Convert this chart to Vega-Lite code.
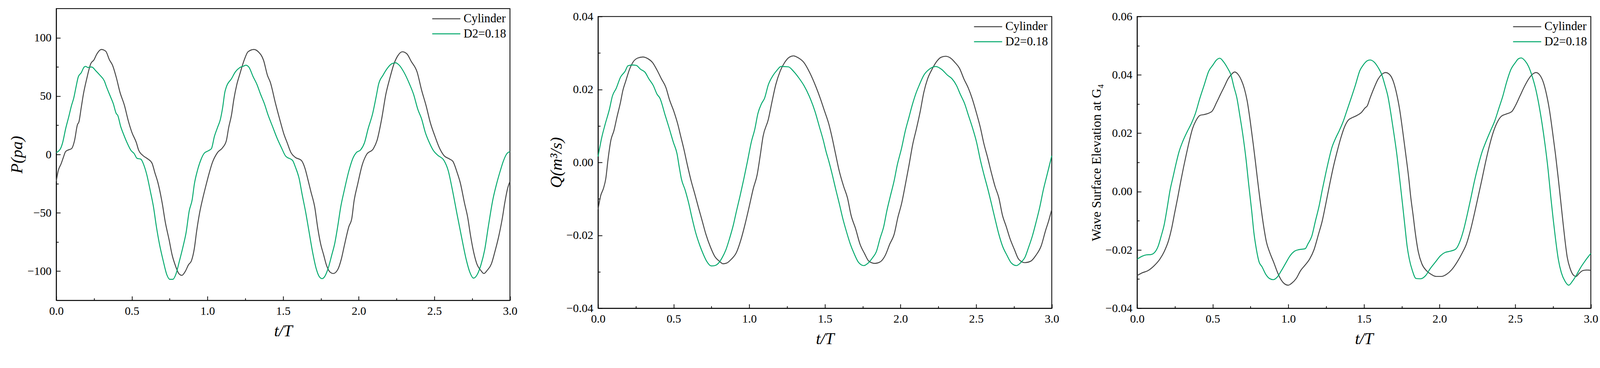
{
  "$schema": "https://vega.github.io/schema/vega-lite/v6.json",
  "background": "white",
  "padding": {"left": 20, "top": 20, "right": 0, "bottom": 0},
  "spacing": 76,
  "config": {
    "font": "Liberation Serif",
    "view": {"stroke": "black", "strokeWidth": 2.1},
    "axis": {
      "grid": false,
      "domainColor": "black",
      "domainWidth": 2.1,
      "tickColor": "black",
      "tickWidth": 1.9,
      "labelColor": "black",
      "labelFont": "Liberation Serif",
      "labelFontSize": 29.8,
      "labelOverlap": false,
      "labelFlush": false,
      "titleColor": "black",
      "titleFont": "Liberation Serif",
      "titleFontStyle": "italic",
      "titleFontWeight": "normal",
      "titleFontSize": 42.3
    },
    "legend": {
      "orient": "top-right",
      "offset": 10,
      "padding": 0,
      "symbolType": "stroke",
      "symbolSize": 5184,
      "symbolStrokeWidth": 2.4,
      "clipHeight": 32,
      "rowPadding": 6.5,
      "labelFont": "Liberation Serif",
      "labelFontSize": 30.8,
      "labelColor": "black",
      "labelOffset": 6.7
    }
  },
  "resolve": {"scale": {"color": "independent"}, "legend": {"color": "independent"}},
  "datasets": {
    "p1": [
      {"t":0,"v":-23,"s":"Cylinder"},{"t":0.013,"v":-14,"s":"Cylinder"},{"t":0.032,"v":-8,"s":"Cylinder"},{"t":0.047,"v":-2.5,"s":"Cylinder"},{"t":0.062,"v":2.5,"s":"Cylinder"},{"t":0.082,"v":4,"s":"Cylinder"},{"t":0.101,"v":5,"s":"Cylinder"},{"t":0.121,"v":12,"s":"Cylinder"},{"t":0.14,"v":25.5,"s":"Cylinder"},{"t":0.15,"v":28,"s":"Cylinder"},{"t":0.165,"v":40,"s":"Cylinder"},{"t":0.18,"v":52,"s":"Cylinder"},{"t":0.2,"v":64,"s":"Cylinder"},{"t":0.229,"v":78,"s":"Cylinder"},{"t":0.249,"v":81,"s":"Cylinder"},{"t":0.268,"v":86,"s":"Cylinder"},{"t":0.298,"v":90,"s":"Cylinder"},{"t":0.327,"v":88.5,"s":"Cylinder"},{"t":0.352,"v":81,"s":"Cylinder"},{"t":0.372,"v":76.5,"s":"Cylinder"},{"t":0.397,"v":66,"s":"Cylinder"},{"t":0.421,"v":53.5,"s":"Cylinder"},{"t":0.451,"v":42,"s":"Cylinder"},{"t":0.476,"v":29,"s":"Cylinder"},{"t":0.5,"v":19,"s":"Cylinder"},{"t":0.53,"v":10,"s":"Cylinder"},{"t":0.544,"v":4,"s":"Cylinder"},{"t":0.574,"v":-1,"s":"Cylinder"},{"t":0.603,"v":-3.6,"s":"Cylinder"},{"t":0.633,"v":-7.4,"s":"Cylinder"},{"t":0.652,"v":-15.6,"s":"Cylinder"},{"t":0.672,"v":-24,"s":"Cylinder"},{"t":0.701,"v":-42,"s":"Cylinder"},{"t":0.721,"v":-58,"s":"Cylinder"},{"t":0.746,"v":-73,"s":"Cylinder"},{"t":0.766,"v":-86,"s":"Cylinder"},{"t":0.79,"v":-96,"s":"Cylinder"},{"t":0.81,"v":-102,"s":"Cylinder"},{"t":0.83,"v":-103.6,"s":"Cylinder"},{"t":0.854,"v":-100,"s":"Cylinder"},{"t":0.874,"v":-94.6,"s":"Cylinder"},{"t":0.894,"v":-91,"s":"Cylinder"},{"t":0.913,"v":-80.6,"s":"Cylinder"},{"t":0.928,"v":-66,"s":"Cylinder"},{"t":0.948,"v":-50,"s":"Cylinder"},{"t":0.967,"v":-38.6,"s":"Cylinder"},{"t":0.987,"v":-28,"s":"Cylinder"},{"t":1.012,"v":-15.6,"s":"Cylinder"},{"t":1.031,"v":-7.4,"s":"Cylinder"},{"t":1.066,"v":1.6,"s":"Cylinder"},{"t":1.1,"v":5.8,"s":"Cylinder"},{"t":1.125,"v":12,"s":"Cylinder"},{"t":1.14,"v":23,"s":"Cylinder"},{"t":1.159,"v":34,"s":"Cylinder"},{"t":1.174,"v":47,"s":"Cylinder"},{"t":1.194,"v":60,"s":"Cylinder"},{"t":1.214,"v":69,"s":"Cylinder"},{"t":1.243,"v":81,"s":"Cylinder"},{"t":1.268,"v":88,"s":"Cylinder"},{"t":1.307,"v":90,"s":"Cylinder"},{"t":1.336,"v":88,"s":"Cylinder"},{"t":1.371,"v":80.6,"s":"Cylinder"},{"t":1.396,"v":68,"s":"Cylinder"},{"t":1.415,"v":62,"s":"Cylinder"},{"t":1.45,"v":43.6,"s":"Cylinder"},{"t":1.48,"v":29,"s":"Cylinder"},{"t":1.504,"v":18,"s":"Cylinder"},{"t":1.527,"v":10,"s":"Cylinder"},{"t":1.552,"v":1.6,"s":"Cylinder"},{"t":1.581,"v":-2.5,"s":"Cylinder"},{"t":1.62,"v":-5,"s":"Cylinder"},{"t":1.645,"v":-12,"s":"Cylinder"},{"t":1.665,"v":-22,"s":"Cylinder"},{"t":1.684,"v":-32,"s":"Cylinder"},{"t":1.709,"v":-45,"s":"Cylinder"},{"t":1.729,"v":-63,"s":"Cylinder"},{"t":1.748,"v":-76.5,"s":"Cylinder"},{"t":1.768,"v":-86,"s":"Cylinder"},{"t":1.787,"v":-95,"s":"Cylinder"},{"t":1.812,"v":-101,"s":"Cylinder"},{"t":1.832,"v":-102,"s":"Cylinder"},{"t":1.861,"v":-98.7,"s":"Cylinder"},{"t":1.885,"v":-89.6,"s":"Cylinder"},{"t":1.905,"v":-78,"s":"Cylinder"},{"t":1.935,"v":-61.7,"s":"Cylinder"},{"t":1.954,"v":-55,"s":"Cylinder"},{"t":1.969,"v":-40,"s":"Cylinder"},{"t":1.993,"v":-25.5,"s":"Cylinder"},{"t":2.023,"v":-9,"s":"Cylinder"},{"t":2.052,"v":0,"s":"Cylinder"},{"t":2.097,"v":5,"s":"Cylinder"},{"t":2.121,"v":12,"s":"Cylinder"},{"t":2.151,"v":30,"s":"Cylinder"},{"t":2.18,"v":52,"s":"Cylinder"},{"t":2.205,"v":65,"s":"Cylinder"},{"t":2.234,"v":78,"s":"Cylinder"},{"t":2.259,"v":84.7,"s":"Cylinder"},{"t":2.288,"v":88,"s":"Cylinder"},{"t":2.318,"v":86.3,"s":"Cylinder"},{"t":2.347,"v":79.8,"s":"Cylinder"},{"t":2.386,"v":70.7,"s":"Cylinder"},{"t":2.416,"v":55,"s":"Cylinder"},{"t":2.445,"v":42,"s":"Cylinder"},{"t":2.474,"v":27,"s":"Cylinder"},{"t":2.504,"v":15.6,"s":"Cylinder"},{"t":2.533,"v":5.8,"s":"Cylinder"},{"t":2.563,"v":-0.8,"s":"Cylinder"},{"t":2.602,"v":-4,"s":"Cylinder"},{"t":2.622,"v":-5.8,"s":"Cylinder"},{"t":2.651,"v":-15.6,"s":"Cylinder"},{"t":2.671,"v":-24,"s":"Cylinder"},{"t":2.7,"v":-42,"s":"Cylinder"},{"t":2.72,"v":-53.5,"s":"Cylinder"},{"t":2.74,"v":-70,"s":"Cylinder"},{"t":2.754,"v":-80,"s":"Cylinder"},{"t":2.779,"v":-93,"s":"Cylinder"},{"t":2.808,"v":-99.5,"s":"Cylinder"},{"t":2.828,"v":-102,"s":"Cylinder"},{"t":2.848,"v":-99.5,"s":"Cylinder"},{"t":2.877,"v":-93.8,"s":"Cylinder"},{"t":2.901,"v":-83,"s":"Cylinder"},{"t":2.926,"v":-70,"s":"Cylinder"},{"t":2.951,"v":-53.5,"s":"Cylinder"},{"t":2.965,"v":-42,"s":"Cylinder"},{"t":2.985,"v":-28.8,"s":"Cylinder"},{"t":3,"v":-23,"s":"Cylinder"},
      {"t":0,"v":1.6,"s":"D2=0.18"},{"t":0.028,"v":5,"s":"D2=0.18"},{"t":0.042,"v":10,"s":"D2=0.18"},{"t":0.062,"v":22,"s":"D2=0.18"},{"t":0.082,"v":32,"s":"D2=0.18"},{"t":0.101,"v":42,"s":"D2=0.18"},{"t":0.116,"v":48.5,"s":"D2=0.18"},{"t":0.131,"v":58,"s":"D2=0.18"},{"t":0.146,"v":66.6,"s":"D2=0.18"},{"t":0.165,"v":70,"s":"D2=0.18"},{"t":0.185,"v":75,"s":"D2=0.18"},{"t":0.195,"v":75.5,"s":"D2=0.18"},{"t":0.209,"v":74.5,"s":"D2=0.18"},{"t":0.234,"v":75,"s":"D2=0.18"},{"t":0.263,"v":71.5,"s":"D2=0.18"},{"t":0.288,"v":68,"s":"D2=0.18"},{"t":0.318,"v":63,"s":"D2=0.18"},{"t":0.332,"v":58,"s":"D2=0.18"},{"t":0.357,"v":50,"s":"D2=0.18"},{"t":0.377,"v":43.6,"s":"D2=0.18"},{"t":0.397,"v":35,"s":"D2=0.18"},{"t":0.406,"v":33.7,"s":"D2=0.18"},{"t":0.426,"v":24,"s":"D2=0.18"},{"t":0.446,"v":17,"s":"D2=0.18"},{"t":0.466,"v":10.7,"s":"D2=0.18"},{"t":0.495,"v":3.3,"s":"D2=0.18"},{"t":0.515,"v":0.8,"s":"D2=0.18"},{"t":0.534,"v":-3.3,"s":"D2=0.18"},{"t":0.559,"v":-4,"s":"D2=0.18"},{"t":0.579,"v":-9,"s":"D2=0.18"},{"t":0.598,"v":-17,"s":"D2=0.18"},{"t":0.623,"v":-32,"s":"D2=0.18"},{"t":0.643,"v":-45,"s":"D2=0.18"},{"t":0.662,"v":-61.7,"s":"D2=0.18"},{"t":0.682,"v":-76.5,"s":"D2=0.18"},{"t":0.707,"v":-91,"s":"D2=0.18"},{"t":0.731,"v":-103,"s":"D2=0.18"},{"t":0.751,"v":-107,"s":"D2=0.18"},{"t":0.771,"v":-107,"s":"D2=0.18"},{"t":0.79,"v":-103,"s":"D2=0.18"},{"t":0.815,"v":-91,"s":"D2=0.18"},{"t":0.84,"v":-78,"s":"D2=0.18"},{"t":0.859,"v":-66.6,"s":"D2=0.18"},{"t":0.879,"v":-48.5,"s":"D2=0.18"},{"t":0.899,"v":-38.6,"s":"D2=0.18"},{"t":0.913,"v":-25.5,"s":"D2=0.18"},{"t":0.933,"v":-14,"s":"D2=0.18"},{"t":0.958,"v":-4,"s":"D2=0.18"},{"t":0.977,"v":0.8,"s":"D2=0.18"},{"t":1.007,"v":3.3,"s":"D2=0.18"},{"t":1.026,"v":5,"s":"D2=0.18"},{"t":1.046,"v":15.6,"s":"D2=0.18"},{"t":1.066,"v":23,"s":"D2=0.18"},{"t":1.085,"v":30,"s":"D2=0.18"},{"t":1.1,"v":40,"s":"D2=0.18"},{"t":1.115,"v":53.5,"s":"D2=0.18"},{"t":1.125,"v":58,"s":"D2=0.18"},{"t":1.159,"v":65,"s":"D2=0.18"},{"t":1.184,"v":70.7,"s":"D2=0.18"},{"t":1.214,"v":74.5,"s":"D2=0.18"},{"t":1.238,"v":75.7,"s":"D2=0.18"},{"t":1.253,"v":76.5,"s":"D2=0.18"},{"t":1.273,"v":75,"s":"D2=0.18"},{"t":1.302,"v":66.6,"s":"D2=0.18"},{"t":1.327,"v":60,"s":"D2=0.18"},{"t":1.351,"v":51.6,"s":"D2=0.18"},{"t":1.376,"v":43.6,"s":"D2=0.18"},{"t":1.401,"v":33.7,"s":"D2=0.18"},{"t":1.43,"v":24,"s":"D2=0.18"},{"t":1.46,"v":14,"s":"D2=0.18"},{"t":1.489,"v":5.8,"s":"D2=0.18"},{"t":1.518,"v":-1.6,"s":"D2=0.18"},{"t":1.527,"v":-2.5,"s":"D2=0.18"},{"t":1.562,"v":-5,"s":"D2=0.18"},{"t":1.581,"v":-10.7,"s":"D2=0.18"},{"t":1.606,"v":-20.6,"s":"D2=0.18"},{"t":1.625,"v":-33.7,"s":"D2=0.18"},{"t":1.65,"v":-50,"s":"D2=0.18"},{"t":1.67,"v":-65,"s":"D2=0.18"},{"t":1.694,"v":-83,"s":"D2=0.18"},{"t":1.719,"v":-97.9,"s":"D2=0.18"},{"t":1.738,"v":-104.4,"s":"D2=0.18"},{"t":1.758,"v":-106.4,"s":"D2=0.18"},{"t":1.773,"v":-105,"s":"D2=0.18"},{"t":1.797,"v":-97.9,"s":"D2=0.18"},{"t":1.822,"v":-86,"s":"D2=0.18"},{"t":1.841,"v":-76.5,"s":"D2=0.18"},{"t":1.861,"v":-61.7,"s":"D2=0.18"},{"t":1.881,"v":-45,"s":"D2=0.18"},{"t":1.905,"v":-30.4,"s":"D2=0.18"},{"t":1.935,"v":-14,"s":"D2=0.18"},{"t":1.964,"v":-2.5,"s":"D2=0.18"},{"t":1.984,"v":1.6,"s":"D2=0.18"},{"t":2.013,"v":4,"s":"D2=0.18"},{"t":2.038,"v":10,"s":"D2=0.18"},{"t":2.062,"v":22,"s":"D2=0.18"},{"t":2.092,"v":35,"s":"D2=0.18"},{"t":2.116,"v":50,"s":"D2=0.18"},{"t":2.131,"v":60,"s":"D2=0.18"},{"t":2.161,"v":68,"s":"D2=0.18"},{"t":2.19,"v":74,"s":"D2=0.18"},{"t":2.219,"v":77.8,"s":"D2=0.18"},{"t":2.244,"v":78.6,"s":"D2=0.18"},{"t":2.268,"v":76.5,"s":"D2=0.18"},{"t":2.298,"v":70.7,"s":"D2=0.18"},{"t":2.337,"v":60,"s":"D2=0.18"},{"t":2.362,"v":51.8,"s":"D2=0.18"},{"t":2.391,"v":38.6,"s":"D2=0.18"},{"t":2.416,"v":30.4,"s":"D2=0.18"},{"t":2.44,"v":19,"s":"D2=0.18"},{"t":2.465,"v":10.7,"s":"D2=0.18"},{"t":2.494,"v":3.3,"s":"D2=0.18"},{"t":2.524,"v":-0.8,"s":"D2=0.18"},{"t":2.563,"v":-5,"s":"D2=0.18"},{"t":2.592,"v":-14,"s":"D2=0.18"},{"t":2.617,"v":-28.8,"s":"D2=0.18"},{"t":2.651,"v":-51.8,"s":"D2=0.18"},{"t":2.681,"v":-71.5,"s":"D2=0.18"},{"t":2.71,"v":-89.6,"s":"D2=0.18"},{"t":2.735,"v":-101,"s":"D2=0.18"},{"t":2.759,"v":-106,"s":"D2=0.18"},{"t":2.784,"v":-102.8,"s":"D2=0.18"},{"t":2.808,"v":-94.6,"s":"D2=0.18"},{"t":2.833,"v":-81.6,"s":"D2=0.18"},{"t":2.857,"v":-61.7,"s":"D2=0.18"},{"t":2.887,"v":-38.6,"s":"D2=0.18"},{"t":2.911,"v":-25.5,"s":"D2=0.18"},{"t":2.936,"v":-14,"s":"D2=0.18"},{"t":2.956,"v":-5.8,"s":"D2=0.18"},{"t":2.98,"v":0.8,"s":"D2=0.18"},{"t":3,"v":2.5,"s":"D2=0.18"}
    ],
    "p2": [
      {"t":0,"v":-0.0129,"s":"Cylinder"},{"t":0.017,"v":-0.0092,"s":"Cylinder"},{"t":0.036,"v":-0.0071,"s":"Cylinder"},{"t":0.051,"v":-0.0045,"s":"Cylinder"},{"t":0.066,"v":0.0008,"s":"Cylinder"},{"t":0.085,"v":0.0061,"s":"Cylinder"},{"t":0.105,"v":0.0087,"s":"Cylinder"},{"t":0.125,"v":0.0124,"s":"Cylinder"},{"t":0.149,"v":0.0166,"s":"Cylinder"},{"t":0.164,"v":0.0197,"s":"Cylinder"},{"t":0.184,"v":0.0224,"s":"Cylinder"},{"t":0.208,"v":0.0255,"s":"Cylinder"},{"t":0.233,"v":0.0276,"s":"Cylinder"},{"t":0.262,"v":0.0286,"s":"Cylinder"},{"t":0.296,"v":0.0289,"s":"Cylinder"},{"t":0.331,"v":0.0284,"s":"Cylinder"},{"t":0.36,"v":0.0274,"s":"Cylinder"},{"t":0.39,"v":0.0253,"s":"Cylinder"},{"t":0.419,"v":0.0229,"s":"Cylinder"},{"t":0.449,"v":0.0205,"s":"Cylinder"},{"t":0.473,"v":0.0171,"s":"Cylinder"},{"t":0.502,"v":0.0139,"s":"Cylinder"},{"t":0.527,"v":0.0105,"s":"Cylinder"},{"t":0.547,"v":0.0071,"s":"Cylinder"},{"t":0.566,"v":0.0039,"s":"Cylinder"},{"t":0.591,"v":-0.0008,"s":"Cylinder"},{"t":0.615,"v":-0.005,"s":"Cylinder"},{"t":0.64,"v":-0.0087,"s":"Cylinder"},{"t":0.664,"v":-0.0124,"s":"Cylinder"},{"t":0.689,"v":-0.0161,"s":"Cylinder"},{"t":0.713,"v":-0.0197,"s":"Cylinder"},{"t":0.743,"v":-0.0232,"s":"Cylinder"},{"t":0.772,"v":-0.0258,"s":"Cylinder"},{"t":0.802,"v":-0.0271,"s":"Cylinder"},{"t":0.826,"v":-0.0278,"s":"Cylinder"},{"t":0.851,"v":-0.0276,"s":"Cylinder"},{"t":0.88,"v":-0.0266,"s":"Cylinder"},{"t":0.915,"v":-0.0247,"s":"Cylinder"},{"t":0.944,"v":-0.0213,"s":"Cylinder"},{"t":0.973,"v":-0.0168,"s":"Cylinder"},{"t":0.998,"v":-0.0124,"s":"Cylinder"},{"t":1.027,"v":-0.0071,"s":"Cylinder"},{"t":1.052,"v":-0.0034,"s":"Cylinder"},{"t":1.072,"v":0.0018,"s":"Cylinder"},{"t":1.091,"v":0.0071,"s":"Cylinder"},{"t":1.126,"v":0.0118,"s":"Cylinder"},{"t":1.15,"v":0.0166,"s":"Cylinder"},{"t":1.175,"v":0.0213,"s":"Cylinder"},{"t":1.204,"v":0.025,"s":"Cylinder"},{"t":1.234,"v":0.0274,"s":"Cylinder"},{"t":1.263,"v":0.0288,"s":"Cylinder"},{"t":1.292,"v":0.0292,"s":"Cylinder"},{"t":1.327,"v":0.0286,"s":"Cylinder"},{"t":1.361,"v":0.0274,"s":"Cylinder"},{"t":1.401,"v":0.0245,"s":"Cylinder"},{"t":1.44,"v":0.0208,"s":"Cylinder"},{"t":1.469,"v":0.0176,"s":"Cylinder"},{"t":1.494,"v":0.0145,"s":"Cylinder"},{"t":1.526,"v":0.0105,"s":"Cylinder"},{"t":1.546,"v":0.0071,"s":"Cylinder"},{"t":1.57,"v":0.0024,"s":"Cylinder"},{"t":1.595,"v":-0.0024,"s":"Cylinder"},{"t":1.624,"v":-0.0066,"s":"Cylinder"},{"t":1.649,"v":-0.0097,"s":"Cylinder"},{"t":1.673,"v":-0.0145,"s":"Cylinder"},{"t":1.703,"v":-0.0182,"s":"Cylinder"},{"t":1.732,"v":-0.0224,"s":"Cylinder"},{"t":1.762,"v":-0.025,"s":"Cylinder"},{"t":1.791,"v":-0.0271,"s":"Cylinder"},{"t":1.831,"v":-0.0277,"s":"Cylinder"},{"t":1.865,"v":-0.0273,"s":"Cylinder"},{"t":1.899,"v":-0.0255,"s":"Cylinder"},{"t":1.929,"v":-0.0224,"s":"Cylinder"},{"t":1.958,"v":-0.0197,"s":"Cylinder"},{"t":1.983,"v":-0.015,"s":"Cylinder"},{"t":2.007,"v":-0.0113,"s":"Cylinder"},{"t":2.032,"v":-0.0061,"s":"Cylinder"},{"t":2.056,"v":-0.0008,"s":"Cylinder"},{"t":2.081,"v":0.005,"s":"Cylinder"},{"t":2.105,"v":0.0092,"s":"Cylinder"},{"t":2.13,"v":0.0139,"s":"Cylinder"},{"t":2.154,"v":0.0192,"s":"Cylinder"},{"t":2.179,"v":0.0229,"s":"Cylinder"},{"t":2.208,"v":0.0255,"s":"Cylinder"},{"t":2.238,"v":0.0276,"s":"Cylinder"},{"t":2.267,"v":0.0288,"s":"Cylinder"},{"t":2.297,"v":0.0291,"s":"Cylinder"},{"t":2.331,"v":0.0286,"s":"Cylinder"},{"t":2.36,"v":0.0274,"s":"Cylinder"},{"t":2.39,"v":0.0258,"s":"Cylinder"},{"t":2.419,"v":0.0229,"s":"Cylinder"},{"t":2.449,"v":0.0203,"s":"Cylinder"},{"t":2.473,"v":0.0176,"s":"Cylinder"},{"t":2.503,"v":0.0134,"s":"Cylinder"},{"t":2.527,"v":0.0097,"s":"Cylinder"},{"t":2.552,"v":0.005,"s":"Cylinder"},{"t":2.576,"v":0.0013,"s":"Cylinder"},{"t":2.601,"v":-0.0029,"s":"Cylinder"},{"t":2.625,"v":-0.0066,"s":"Cylinder"},{"t":2.65,"v":-0.0097,"s":"Cylinder"},{"t":2.674,"v":-0.0145,"s":"Cylinder"},{"t":2.699,"v":-0.0176,"s":"Cylinder"},{"t":2.723,"v":-0.0208,"s":"Cylinder"},{"t":2.753,"v":-0.0239,"s":"Cylinder"},{"t":2.782,"v":-0.0266,"s":"Cylinder"},{"t":2.822,"v":-0.0275,"s":"Cylinder"},{"t":2.861,"v":-0.0271,"s":"Cylinder"},{"t":2.895,"v":-0.0255,"s":"Cylinder"},{"t":2.93,"v":-0.0229,"s":"Cylinder"},{"t":2.959,"v":-0.0187,"s":"Cylinder"},{"t":2.979,"v":-0.0161,"s":"Cylinder"},{"t":3,"v":-0.0129,"s":"Cylinder"},
      {"t":0,"v":0.0016,"s":"D2=0.18"},{"t":0.026,"v":0.0071,"s":"D2=0.18"},{"t":0.046,"v":0.0103,"s":"D2=0.18"},{"t":0.076,"v":0.0147,"s":"D2=0.18"},{"t":0.095,"v":0.0182,"s":"D2=0.18"},{"t":0.12,"v":0.0203,"s":"D2=0.18"},{"t":0.149,"v":0.0234,"s":"D2=0.18"},{"t":0.179,"v":0.025,"s":"D2=0.18"},{"t":0.198,"v":0.0265,"s":"D2=0.18"},{"t":0.228,"v":0.0267,"s":"D2=0.18"},{"t":0.252,"v":0.0266,"s":"D2=0.18"},{"t":0.282,"v":0.0255,"s":"D2=0.18"},{"t":0.311,"v":0.0247,"s":"D2=0.18"},{"t":0.336,"v":0.0229,"s":"D2=0.18"},{"t":0.365,"v":0.0211,"s":"D2=0.18"},{"t":0.39,"v":0.0187,"s":"D2=0.18"},{"t":0.409,"v":0.0176,"s":"D2=0.18"},{"t":0.444,"v":0.0129,"s":"D2=0.18"},{"t":0.468,"v":0.0097,"s":"D2=0.18"},{"t":0.498,"v":0.0055,"s":"D2=0.18"},{"t":0.522,"v":0.0024,"s":"D2=0.18"},{"t":0.537,"v":-0.0013,"s":"D2=0.18"},{"t":0.551,"v":-0.0045,"s":"D2=0.18"},{"t":0.576,"v":-0.0076,"s":"D2=0.18"},{"t":0.6,"v":-0.0113,"s":"D2=0.18"},{"t":0.62,"v":-0.015,"s":"D2=0.18"},{"t":0.645,"v":-0.0192,"s":"D2=0.18"},{"t":0.674,"v":-0.0229,"s":"D2=0.18"},{"t":0.694,"v":-0.025,"s":"D2=0.18"},{"t":0.718,"v":-0.0271,"s":"D2=0.18"},{"t":0.748,"v":-0.0284,"s":"D2=0.18"},{"t":0.772,"v":-0.0283,"s":"D2=0.18"},{"t":0.797,"v":-0.0276,"s":"D2=0.18"},{"t":0.821,"v":-0.0261,"s":"D2=0.18"},{"t":0.846,"v":-0.0239,"s":"D2=0.18"},{"t":0.87,"v":-0.0208,"s":"D2=0.18"},{"t":0.895,"v":-0.0171,"s":"D2=0.18"},{"t":0.915,"v":-0.0134,"s":"D2=0.18"},{"t":0.939,"v":-0.0092,"s":"D2=0.18"},{"t":0.964,"v":-0.0045,"s":"D2=0.18"},{"t":0.988,"v":0.0003,"s":"D2=0.18"},{"t":1.013,"v":0.0055,"s":"D2=0.18"},{"t":1.037,"v":0.0092,"s":"D2=0.18"},{"t":1.057,"v":0.0134,"s":"D2=0.18"},{"t":1.081,"v":0.0161,"s":"D2=0.18"},{"t":1.101,"v":0.0176,"s":"D2=0.18"},{"t":1.126,"v":0.0213,"s":"D2=0.18"},{"t":1.155,"v":0.0237,"s":"D2=0.18"},{"t":1.184,"v":0.0253,"s":"D2=0.18"},{"t":1.209,"v":0.0263,"s":"D2=0.18"},{"t":1.258,"v":0.0262,"s":"D2=0.18"},{"t":1.292,"v":0.025,"s":"D2=0.18"},{"t":1.327,"v":0.0232,"s":"D2=0.18"},{"t":1.361,"v":0.0211,"s":"D2=0.18"},{"t":1.396,"v":0.0182,"s":"D2=0.18"},{"t":1.435,"v":0.0139,"s":"D2=0.18"},{"t":1.464,"v":0.0097,"s":"D2=0.18"},{"t":1.489,"v":0.0061,"s":"D2=0.18"},{"t":1.508,"v":0.0029,"s":"D2=0.18"},{"t":1.526,"v":0.0003,"s":"D2=0.18"},{"t":1.546,"v":-0.0029,"s":"D2=0.18"},{"t":1.57,"v":-0.0071,"s":"D2=0.18"},{"t":1.595,"v":-0.0113,"s":"D2=0.18"},{"t":1.619,"v":-0.0155,"s":"D2=0.18"},{"t":1.644,"v":-0.0192,"s":"D2=0.18"},{"t":1.668,"v":-0.0224,"s":"D2=0.18"},{"t":1.693,"v":-0.025,"s":"D2=0.18"},{"t":1.722,"v":-0.0274,"s":"D2=0.18"},{"t":1.757,"v":-0.0283,"s":"D2=0.18"},{"t":1.786,"v":-0.0276,"s":"D2=0.18"},{"t":1.816,"v":-0.0261,"s":"D2=0.18"},{"t":1.84,"v":-0.0245,"s":"D2=0.18"},{"t":1.865,"v":-0.0208,"s":"D2=0.18"},{"t":1.889,"v":-0.0176,"s":"D2=0.18"},{"t":1.909,"v":-0.0134,"s":"D2=0.18"},{"t":1.933,"v":-0.0092,"s":"D2=0.18"},{"t":1.958,"v":-0.005,"s":"D2=0.18"},{"t":1.978,"v":-0.0008,"s":"D2=0.18"},{"t":2.007,"v":0.0039,"s":"D2=0.18"},{"t":2.032,"v":0.0087,"s":"D2=0.18"},{"t":2.056,"v":0.0124,"s":"D2=0.18"},{"t":2.076,"v":0.0155,"s":"D2=0.18"},{"t":2.1,"v":0.0187,"s":"D2=0.18"},{"t":2.125,"v":0.0213,"s":"D2=0.18"},{"t":2.154,"v":0.0239,"s":"D2=0.18"},{"t":2.189,"v":0.0255,"s":"D2=0.18"},{"t":2.233,"v":0.0263,"s":"D2=0.18"},{"t":2.272,"v":0.0255,"s":"D2=0.18"},{"t":2.311,"v":0.0239,"s":"D2=0.18"},{"t":2.341,"v":0.0229,"s":"D2=0.18"},{"t":2.37,"v":0.0211,"s":"D2=0.18"},{"t":2.395,"v":0.0187,"s":"D2=0.18"},{"t":2.424,"v":0.0161,"s":"D2=0.18"},{"t":2.449,"v":0.0129,"s":"D2=0.18"},{"t":2.478,"v":0.0092,"s":"D2=0.18"},{"t":2.503,"v":0.0055,"s":"D2=0.18"},{"t":2.527,"v":0.0008,"s":"D2=0.18"},{"t":2.552,"v":-0.0034,"s":"D2=0.18"},{"t":2.576,"v":-0.0071,"s":"D2=0.18"},{"t":2.601,"v":-0.0113,"s":"D2=0.18"},{"t":2.625,"v":-0.0155,"s":"D2=0.18"},{"t":2.65,"v":-0.0197,"s":"D2=0.18"},{"t":2.674,"v":-0.0229,"s":"D2=0.18"},{"t":2.704,"v":-0.0255,"s":"D2=0.18"},{"t":2.733,"v":-0.0276,"s":"D2=0.18"},{"t":2.767,"v":-0.0283,"s":"D2=0.18"},{"t":2.797,"v":-0.0274,"s":"D2=0.18"},{"t":2.822,"v":-0.0261,"s":"D2=0.18"},{"t":2.846,"v":-0.0234,"s":"D2=0.18"},{"t":2.871,"v":-0.0203,"s":"D2=0.18"},{"t":2.895,"v":-0.0166,"s":"D2=0.18"},{"t":2.92,"v":-0.0124,"s":"D2=0.18"},{"t":2.944,"v":-0.0076,"s":"D2=0.18"},{"t":2.969,"v":-0.0034,"s":"D2=0.18"},{"t":3,"v":0.0018,"s":"D2=0.18"}
    ],
    "p3": [
      {"t":0,"v":-0.0288,"s":"Cylinder"},{"t":0.032,"v":-0.0279,"s":"Cylinder"},{"t":0.072,"v":-0.0271,"s":"Cylinder"},{"t":0.111,"v":-0.0255,"s":"Cylinder"},{"t":0.15,"v":-0.0232,"s":"Cylinder"},{"t":0.179,"v":-0.0206,"s":"Cylinder"},{"t":0.209,"v":-0.0166,"s":"Cylinder"},{"t":0.228,"v":-0.0127,"s":"Cylinder"},{"t":0.248,"v":-0.0074,"s":"Cylinder"},{"t":0.268,"v":-0.0022,"s":"Cylinder"},{"t":0.287,"v":0.0031,"s":"Cylinder"},{"t":0.307,"v":0.0083,"s":"Cylinder"},{"t":0.326,"v":0.0129,"s":"Cylinder"},{"t":0.346,"v":0.0175,"s":"Cylinder"},{"t":0.366,"v":0.0215,"s":"Cylinder"},{"t":0.39,"v":0.0244,"s":"Cylinder"},{"t":0.415,"v":0.0261,"s":"Cylinder"},{"t":0.444,"v":0.0264,"s":"Cylinder"},{"t":0.493,"v":0.0274,"s":"Cylinder"},{"t":0.527,"v":0.0307,"s":"Cylinder"},{"t":0.551,"v":0.0333,"s":"Cylinder"},{"t":0.576,"v":0.0359,"s":"Cylinder"},{"t":0.601,"v":0.0386,"s":"Cylinder"},{"t":0.621,"v":0.04,"s":"Cylinder"},{"t":0.645,"v":0.041,"s":"Cylinder"},{"t":0.67,"v":0.04,"s":"Cylinder"},{"t":0.689,"v":0.0382,"s":"Cylinder"},{"t":0.709,"v":0.0353,"s":"Cylinder"},{"t":0.729,"v":0.0307,"s":"Cylinder"},{"t":0.748,"v":0.0241,"s":"Cylinder"},{"t":0.768,"v":0.0162,"s":"Cylinder"},{"t":0.782,"v":0.0103,"s":"Cylinder"},{"t":0.797,"v":0.0037,"s":"Cylinder"},{"t":0.811,"v":-0.0022,"s":"Cylinder"},{"t":0.826,"v":-0.0081,"s":"Cylinder"},{"t":0.841,"v":-0.0133,"s":"Cylinder"},{"t":0.855,"v":-0.0173,"s":"Cylinder"},{"t":0.875,"v":-0.0206,"s":"Cylinder"},{"t":0.905,"v":-0.0245,"s":"Cylinder"},{"t":0.929,"v":-0.0278,"s":"Cylinder"},{"t":0.954,"v":-0.0304,"s":"Cylinder"},{"t":0.974,"v":-0.0316,"s":"Cylinder"},{"t":0.998,"v":-0.0321,"s":"Cylinder"},{"t":1.023,"v":-0.0314,"s":"Cylinder"},{"t":1.052,"v":-0.0298,"s":"Cylinder"},{"t":1.081,"v":-0.0271,"s":"Cylinder"},{"t":1.111,"v":-0.0252,"s":"Cylinder"},{"t":1.14,"v":-0.0232,"s":"Cylinder"},{"t":1.17,"v":-0.0199,"s":"Cylinder"},{"t":1.199,"v":-0.0147,"s":"Cylinder"},{"t":1.224,"v":-0.0101,"s":"Cylinder"},{"t":1.248,"v":-0.0041,"s":"Cylinder"},{"t":1.273,"v":0.0024,"s":"Cylinder"},{"t":1.297,"v":0.0083,"s":"Cylinder"},{"t":1.322,"v":0.0136,"s":"Cylinder"},{"t":1.346,"v":0.0182,"s":"Cylinder"},{"t":1.371,"v":0.0221,"s":"Cylinder"},{"t":1.395,"v":0.0244,"s":"Cylinder"},{"t":1.425,"v":0.0254,"s":"Cylinder"},{"t":1.454,"v":0.0261,"s":"Cylinder"},{"t":1.483,"v":0.0271,"s":"Cylinder"},{"t":1.508,"v":0.0287,"s":"Cylinder"},{"t":1.521,"v":0.0293,"s":"Cylinder"},{"t":1.54,"v":0.032,"s":"Cylinder"},{"t":1.565,"v":0.0353,"s":"Cylinder"},{"t":1.594,"v":0.0386,"s":"Cylinder"},{"t":1.619,"v":0.0402,"s":"Cylinder"},{"t":1.643,"v":0.0408,"s":"Cylinder"},{"t":1.673,"v":0.0399,"s":"Cylinder"},{"t":1.697,"v":0.0373,"s":"Cylinder"},{"t":1.717,"v":0.0333,"s":"Cylinder"},{"t":1.736,"v":0.0281,"s":"Cylinder"},{"t":1.756,"v":0.0208,"s":"Cylinder"},{"t":1.776,"v":0.0129,"s":"Cylinder"},{"t":1.795,"v":0.0051,"s":"Cylinder"},{"t":1.81,"v":-0.0022,"s":"Cylinder"},{"t":1.825,"v":-0.0081,"s":"Cylinder"},{"t":1.839,"v":-0.014,"s":"Cylinder"},{"t":1.859,"v":-0.0206,"s":"Cylinder"},{"t":1.883,"v":-0.0248,"s":"Cylinder"},{"t":1.913,"v":-0.0271,"s":"Cylinder"},{"t":1.942,"v":-0.0283,"s":"Cylinder"},{"t":1.977,"v":-0.0291,"s":"Cylinder"},{"t":2.011,"v":-0.0291,"s":"Cylinder"},{"t":2.045,"v":-0.0284,"s":"Cylinder"},{"t":2.08,"v":-0.0268,"s":"Cylinder"},{"t":2.119,"v":-0.0239,"s":"Cylinder"},{"t":2.148,"v":-0.0212,"s":"Cylinder"},{"t":2.178,"v":-0.0179,"s":"Cylinder"},{"t":2.207,"v":-0.0127,"s":"Cylinder"},{"t":2.231,"v":-0.0074,"s":"Cylinder"},{"t":2.256,"v":-0.0015,"s":"Cylinder"},{"t":2.281,"v":0.0044,"s":"Cylinder"},{"t":2.305,"v":0.0103,"s":"Cylinder"},{"t":2.329,"v":0.0156,"s":"Cylinder"},{"t":2.354,"v":0.0202,"s":"Cylinder"},{"t":2.379,"v":0.0235,"s":"Cylinder"},{"t":2.408,"v":0.0258,"s":"Cylinder"},{"t":2.442,"v":0.0266,"s":"Cylinder"},{"t":2.477,"v":0.0274,"s":"Cylinder"},{"t":2.501,"v":0.0294,"s":"Cylinder"},{"t":2.531,"v":0.0327,"s":"Cylinder"},{"t":2.56,"v":0.0359,"s":"Cylinder"},{"t":2.589,"v":0.0386,"s":"Cylinder"},{"t":2.614,"v":0.0402,"s":"Cylinder"},{"t":2.638,"v":0.0408,"s":"Cylinder"},{"t":2.663,"v":0.0399,"s":"Cylinder"},{"t":2.687,"v":0.0373,"s":"Cylinder"},{"t":2.707,"v":0.0333,"s":"Cylinder"},{"t":2.726,"v":0.0281,"s":"Cylinder"},{"t":2.746,"v":0.0208,"s":"Cylinder"},{"t":2.766,"v":0.0129,"s":"Cylinder"},{"t":2.785,"v":0.0044,"s":"Cylinder"},{"t":2.8,"v":-0.0028,"s":"Cylinder"},{"t":2.815,"v":-0.0101,"s":"Cylinder"},{"t":2.829,"v":-0.0166,"s":"Cylinder"},{"t":2.844,"v":-0.0225,"s":"Cylinder"},{"t":2.864,"v":-0.0265,"s":"Cylinder"},{"t":2.888,"v":-0.0288,"s":"Cylinder"},{"t":2.903,"v":-0.0291,"s":"Cylinder"},{"t":2.922,"v":-0.0281,"s":"Cylinder"},{"t":2.947,"v":-0.0271,"s":"Cylinder"},{"t":2.972,"v":-0.0269,"s":"Cylinder"},{"t":3,"v":-0.027,"s":"Cylinder"},
      {"t":0,"v":-0.0232,"s":"D2=0.18"},{"t":0.032,"v":-0.0222,"s":"D2=0.18"},{"t":0.062,"v":-0.0217,"s":"D2=0.18"},{"t":0.091,"v":-0.0216,"s":"D2=0.18"},{"t":0.12,"v":-0.0206,"s":"D2=0.18"},{"t":0.14,"v":-0.0186,"s":"D2=0.18"},{"t":0.159,"v":-0.0153,"s":"D2=0.18"},{"t":0.179,"v":-0.0114,"s":"D2=0.18"},{"t":0.199,"v":-0.0055,"s":"D2=0.18"},{"t":0.218,"v":0.0005,"s":"D2=0.18"},{"t":0.238,"v":0.0051,"s":"D2=0.18"},{"t":0.258,"v":0.0097,"s":"D2=0.18"},{"t":0.277,"v":0.0136,"s":"D2=0.18"},{"t":0.302,"v":0.0172,"s":"D2=0.18"},{"t":0.331,"v":0.0205,"s":"D2=0.18"},{"t":0.36,"v":0.0235,"s":"D2=0.18"},{"t":0.385,"v":0.0267,"s":"D2=0.18"},{"t":0.415,"v":0.032,"s":"D2=0.18"},{"t":0.444,"v":0.0366,"s":"D2=0.18"},{"t":0.473,"v":0.0412,"s":"D2=0.18"},{"t":0.503,"v":0.0435,"s":"D2=0.18"},{"t":0.523,"v":0.045,"s":"D2=0.18"},{"t":0.547,"v":0.0457,"s":"D2=0.18"},{"t":0.571,"v":0.0445,"s":"D2=0.18"},{"t":0.596,"v":0.0425,"s":"D2=0.18"},{"t":0.621,"v":0.0399,"s":"D2=0.18"},{"t":0.64,"v":0.0359,"s":"D2=0.18"},{"t":0.66,"v":0.032,"s":"D2=0.18"},{"t":0.679,"v":0.0261,"s":"D2=0.18"},{"t":0.699,"v":0.0195,"s":"D2=0.18"},{"t":0.719,"v":0.0116,"s":"D2=0.18"},{"t":0.738,"v":0.0024,"s":"D2=0.18"},{"t":0.758,"v":-0.0068,"s":"D2=0.18"},{"t":0.772,"v":-0.014,"s":"D2=0.18"},{"t":0.787,"v":-0.0193,"s":"D2=0.18"},{"t":0.807,"v":-0.0242,"s":"D2=0.18"},{"t":0.826,"v":-0.0258,"s":"D2=0.18"},{"t":0.851,"v":-0.0284,"s":"D2=0.18"},{"t":0.875,"v":-0.0298,"s":"D2=0.18"},{"t":0.9,"v":-0.0302,"s":"D2=0.18"},{"t":0.925,"v":-0.0294,"s":"D2=0.18"},{"t":0.954,"v":-0.0271,"s":"D2=0.18"},{"t":0.983,"v":-0.0245,"s":"D2=0.18"},{"t":1.013,"v":-0.0219,"s":"D2=0.18"},{"t":1.042,"v":-0.0204,"s":"D2=0.18"},{"t":1.071,"v":-0.0199,"s":"D2=0.18"},{"t":1.111,"v":-0.0196,"s":"D2=0.18"},{"t":1.13,"v":-0.0179,"s":"D2=0.18"},{"t":1.155,"v":-0.0153,"s":"D2=0.18"},{"t":1.179,"v":-0.0101,"s":"D2=0.18"},{"t":1.204,"v":-0.0048,"s":"D2=0.18"},{"t":1.224,"v":0.0005,"s":"D2=0.18"},{"t":1.248,"v":0.0064,"s":"D2=0.18"},{"t":1.268,"v":0.011,"s":"D2=0.18"},{"t":1.287,"v":0.0149,"s":"D2=0.18"},{"t":1.312,"v":0.0182,"s":"D2=0.18"},{"t":1.336,"v":0.0208,"s":"D2=0.18"},{"t":1.361,"v":0.0238,"s":"D2=0.18"},{"t":1.385,"v":0.0274,"s":"D2=0.18"},{"t":1.415,"v":0.032,"s":"D2=0.18"},{"t":1.444,"v":0.0366,"s":"D2=0.18"},{"t":1.473,"v":0.0415,"s":"D2=0.18"},{"t":1.497,"v":0.0435,"s":"D2=0.18"},{"t":1.521,"v":0.0448,"s":"D2=0.18"},{"t":1.54,"v":0.0451,"s":"D2=0.18"},{"t":1.565,"v":0.0445,"s":"D2=0.18"},{"t":1.594,"v":0.0425,"s":"D2=0.18"},{"t":1.619,"v":0.0399,"s":"D2=0.18"},{"t":1.638,"v":0.0366,"s":"D2=0.18"},{"t":1.658,"v":0.0327,"s":"D2=0.18"},{"t":1.678,"v":0.0267,"s":"D2=0.18"},{"t":1.697,"v":0.0202,"s":"D2=0.18"},{"t":1.717,"v":0.0129,"s":"D2=0.18"},{"t":1.736,"v":0.0044,"s":"D2=0.18"},{"t":1.756,"v":-0.0048,"s":"D2=0.18"},{"t":1.771,"v":-0.012,"s":"D2=0.18"},{"t":1.785,"v":-0.0186,"s":"D2=0.18"},{"t":1.8,"v":-0.0232,"s":"D2=0.18"},{"t":1.82,"v":-0.0271,"s":"D2=0.18"},{"t":1.844,"v":-0.0298,"s":"D2=0.18"},{"t":1.874,"v":-0.0299,"s":"D2=0.18"},{"t":1.908,"v":-0.0288,"s":"D2=0.18"},{"t":1.937,"v":-0.0265,"s":"D2=0.18"},{"t":1.972,"v":-0.0242,"s":"D2=0.18"},{"t":2.006,"v":-0.022,"s":"D2=0.18"},{"t":2.035,"v":-0.0209,"s":"D2=0.18"},{"t":2.075,"v":-0.0204,"s":"D2=0.18"},{"t":2.109,"v":-0.0196,"s":"D2=0.18"},{"t":2.133,"v":-0.0173,"s":"D2=0.18"},{"t":2.158,"v":-0.0133,"s":"D2=0.18"},{"t":2.182,"v":-0.0081,"s":"D2=0.18"},{"t":2.207,"v":-0.0022,"s":"D2=0.18"},{"t":2.231,"v":0.0037,"s":"D2=0.18"},{"t":2.256,"v":0.009,"s":"D2=0.18"},{"t":2.281,"v":0.0136,"s":"D2=0.18"},{"t":2.305,"v":0.0169,"s":"D2=0.18"},{"t":2.334,"v":0.0205,"s":"D2=0.18"},{"t":2.364,"v":0.0241,"s":"D2=0.18"},{"t":2.393,"v":0.0287,"s":"D2=0.18"},{"t":2.418,"v":0.0327,"s":"D2=0.18"},{"t":2.442,"v":0.0373,"s":"D2=0.18"},{"t":2.472,"v":0.0419,"s":"D2=0.18"},{"t":2.501,"v":0.0442,"s":"D2=0.18"},{"t":2.521,"v":0.0455,"s":"D2=0.18"},{"t":2.54,"v":0.0458,"s":"D2=0.18"},{"t":2.565,"v":0.0448,"s":"D2=0.18"},{"t":2.589,"v":0.0428,"s":"D2=0.18"},{"t":2.614,"v":0.0392,"s":"D2=0.18"},{"t":2.638,"v":0.0346,"s":"D2=0.18"},{"t":2.658,"v":0.0294,"s":"D2=0.18"},{"t":2.677,"v":0.0235,"s":"D2=0.18"},{"t":2.697,"v":0.0162,"s":"D2=0.18"},{"t":2.717,"v":0.0077,"s":"D2=0.18"},{"t":2.736,"v":-0.0022,"s":"D2=0.18"},{"t":2.751,"v":-0.0094,"s":"D2=0.18"},{"t":2.766,"v":-0.016,"s":"D2=0.18"},{"t":2.785,"v":-0.0232,"s":"D2=0.18"},{"t":2.805,"v":-0.0278,"s":"D2=0.18"},{"t":2.829,"v":-0.0307,"s":"D2=0.18"},{"t":2.854,"v":-0.0321,"s":"D2=0.18"},{"t":2.879,"v":-0.0307,"s":"D2=0.18"},{"t":2.903,"v":-0.0288,"s":"D2=0.18"},{"t":2.932,"v":-0.0261,"s":"D2=0.18"},{"t":2.962,"v":-0.0238,"s":"D2=0.18"},{"t":3,"v":-0.0212,"s":"D2=0.18"}
    ]
  },
  "hconcat": [
    {
      "data": {"name": "p1"},
      "width": 1161.5,
      "height": 746,
      "mark": {"type": "line", "strokeWidth": 2.4, "interpolate": "monotone"},
      "encoding": {
        "x": {
          "field": "t", "type": "quantitative",
          "scale": {"domain": [0, 3], "nice": false, "zero": false},
          "axis": {
            "title": "t/T",
            "values": [0, 0.25, 0.5, 0.75, 1, 1.25, 1.5, 1.75, 2, 2.25, 2.5, 2.75, 3],
            "labelExpr": "datum.value % 0.5 == 0 ? format(datum.value, '.1f') : ''",
            "tickSize": {"condition": {"test": "datum.value % 0.5 != 0", "value": -5.8}, "value": -10.6},
            "labelPadding": 23.1,
            "titlePadding": 11.5
          }
        },
        "y": {
          "field": "v", "type": "quantitative",
          "scale": {"domain": [-125, 125], "nice": false, "zero": false},
          "axis": {
            "title": "P(pa)",
            "values": [-100, -75, -50, -25, 0, 25, 50, 75, 100],
            "labelExpr": "datum.value % 50 == 0 ? format(datum.value, 'd') : ''",
            "tickSize": {"condition": {"test": "datum.value % 50 != 0", "value": -5.8}, "value": -10.6},
            "labelPadding": 23.1,
            "titlePadding": 5
          }
        },
        "color": {
          "field": "s", "type": "nominal",
          "scale": {"domain": ["Cylinder", "D2=0.18"], "range": ["#444444", "#00A86B"]},
          "legend": {"title": null}
        }
      }
    },
    {
      "bounds": "flush",
      "spacing": 19.2,
      "resolve": {"scale": {"color": "independent"}, "legend": {"color": "independent"}},
      "vconcat": [
        {
          "data": {"values": []},
          "width": 1161.5,
          "height": 1,
          "view": {"stroke": null},
          "mark": "point"
        },
        {
          "data": {"name": "p2"},
          "width": 1161.5,
          "height": 746,
          "mark": {"type": "line", "strokeWidth": 2.4, "interpolate": "monotone"},
          "encoding": {
            "x": {
              "field": "t", "type": "quantitative",
              "scale": {"domain": [0, 3], "nice": false, "zero": false},
              "axis": {
                "title": "t/T",
                "values": [0, 0.25, 0.5, 0.75, 1, 1.25, 1.5, 1.75, 2, 2.25, 2.5, 2.75, 3],
                "labelExpr": "datum.value % 0.5 == 0 ? format(datum.value, '.1f') : ''",
                "tickSize": {"condition": {"test": "datum.value % 0.5 != 0", "value": -5.8}, "value": -10.6},
                "labelPadding": 23.1,
                "titlePadding": 11.5
              }
            },
            "y": {
              "field": "v", "type": "quantitative",
              "scale": {"domain": [-0.04, 0.04], "nice": false, "zero": false},
              "axis": {
                "title": "Q(m³/s)",
                "values": [-0.04, -0.03, -0.02, -0.01, 0, 0.01, 0.02, 0.03, 0.04],
                "labelExpr": "abs(round(datum.value * 100)) % 2 == 0 ? format(datum.value, '.2f') : ''",
                "tickSize": {"condition": {"test": "abs(round(datum.value * 100)) % 2 != 0", "value": -5.8}, "value": -10.6},
                "labelPadding": 23.1,
                "titlePadding": 3.2
              }
            },
            "color": {
              "field": "s", "type": "nominal",
              "scale": {"domain": ["Cylinder", "D2=0.18"], "range": ["#444444", "#00A86B"]},
              "legend": {"title": null}
            }
          }
        }
      ]
    },
    {
      "bounds": "flush",
      "spacing": 19.2,
      "resolve": {"scale": {"color": "independent"}, "legend": {"color": "independent"}},
      "vconcat": [
        {
          "data": {"values": []},
          "width": 1161.5,
          "height": 1,
          "view": {"stroke": null},
          "mark": "point"
        },
        {
          "data": {"name": "p3"},
          "width": 1161.5,
          "height": 746,
          "mark": {"type": "line", "strokeWidth": 2.4, "interpolate": "monotone"},
          "encoding": {
            "x": {
              "field": "t", "type": "quantitative",
              "scale": {"domain": [0, 3], "nice": false, "zero": false},
              "axis": {
                "title": "t/T",
                "values": [0, 0.25, 0.5, 0.75, 1, 1.25, 1.5, 1.75, 2, 2.25, 2.5, 2.75, 3],
                "labelExpr": "datum.value % 0.5 == 0 ? format(datum.value, '.1f') : ''",
                "tickSize": {"condition": {"test": "datum.value % 0.5 != 0", "value": -5.8}, "value": -10.6},
                "labelPadding": 23.1,
                "titlePadding": 11.5
              }
            },
            "y": {
              "field": "v", "type": "quantitative",
              "scale": {"domain": [-0.04, 0.06], "nice": false, "zero": false},
              "axis": {
                "title": "Wave Surface Elevation at G₄",
                "titleFontStyle": "normal",
                "titleFontSize": 33.7,
                "values": [-0.04, -0.03, -0.02, -0.01, 0, 0.01, 0.02, 0.03, 0.04, 0.05, 0.06],
                "labelExpr": "abs(round(datum.value * 100)) % 2 == 0 ? format(datum.value, '.2f') : ''",
                "tickSize": {"condition": {"test": "abs(round(datum.value * 100)) % 2 != 0", "value": -5.8}, "value": -10.6},
                "labelPadding": 23.1,
                "titlePadding": 5.5
              }
            },
            "color": {
              "field": "s", "type": "nominal",
              "scale": {"domain": ["Cylinder", "D2=0.18"], "range": ["#444444", "#00A86B"]},
              "legend": {"title": null}
            }
          }
        }
      ]
    }
  ]
}
